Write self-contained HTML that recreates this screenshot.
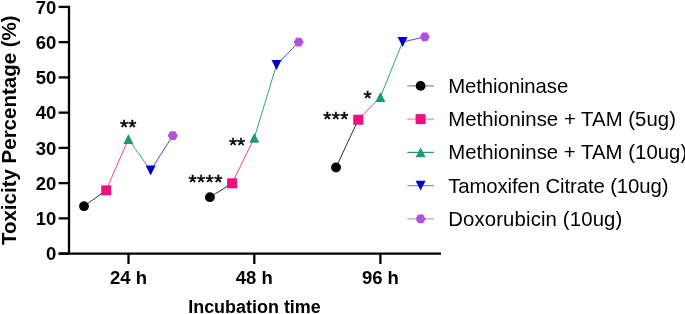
<!DOCTYPE html>
<html><head><meta charset="utf-8"><style>
html,body{margin:0;padding:0;background:#fff;width:685px;height:314px;overflow:hidden}
svg{display:block;will-change:transform}
text{font-family:"Liberation Sans",sans-serif;fill:#000}
.b{font-weight:bold;font-size:18.5px}
.s{font-size:21px;stroke:#000;stroke-width:0.5px;stroke-linejoin:round}
.r{font-size:20.35px}
</style></head><body>
<svg width="685" height="314" viewBox="0 0 685 314">
<line x1="69.0" y1="5.77" x2="69.0" y2="253.60" stroke="#000" stroke-width="2.3"/>
<line x1="58.6" y1="253.6" x2="441" y2="253.6" stroke="#000" stroke-width="2.3"/>
<line x1="58.6" y1="253.60" x2="69.0" y2="253.60" stroke="#000" stroke-width="2.3"/>
<text x="56.3" y="260.30" text-anchor="end" class="b">0</text>
<line x1="58.6" y1="218.36" x2="69.0" y2="218.36" stroke="#000" stroke-width="2.3"/>
<text x="56.3" y="225.06" text-anchor="end" class="b">10</text>
<line x1="58.6" y1="183.12" x2="69.0" y2="183.12" stroke="#000" stroke-width="2.3"/>
<text x="56.3" y="189.82" text-anchor="end" class="b">20</text>
<line x1="58.6" y1="147.88" x2="69.0" y2="147.88" stroke="#000" stroke-width="2.3"/>
<text x="56.3" y="154.58" text-anchor="end" class="b">30</text>
<line x1="58.6" y1="112.64" x2="69.0" y2="112.64" stroke="#000" stroke-width="2.3"/>
<text x="56.3" y="119.34" text-anchor="end" class="b">40</text>
<line x1="58.6" y1="77.40" x2="69.0" y2="77.40" stroke="#000" stroke-width="2.3"/>
<text x="56.3" y="84.10" text-anchor="end" class="b">50</text>
<line x1="58.6" y1="42.16" x2="69.0" y2="42.16" stroke="#000" stroke-width="2.3"/>
<text x="56.3" y="48.86" text-anchor="end" class="b">60</text>
<line x1="58.6" y1="6.92" x2="69.0" y2="6.92" stroke="#000" stroke-width="2.3"/>
<text x="56.3" y="13.62" text-anchor="end" class="b">70</text>
<line x1="128.5" y1="253.6" x2="128.5" y2="264" stroke="#000" stroke-width="2.3"/>
<text x="128.5" y="283.6" text-anchor="middle" class="b">24 h</text>
<line x1="254.3" y1="253.6" x2="254.3" y2="264" stroke="#000" stroke-width="2.3"/>
<text x="254.3" y="283.6" text-anchor="middle" class="b">48 h</text>
<line x1="380.4" y1="253.6" x2="380.4" y2="264" stroke="#000" stroke-width="2.3"/>
<text x="380.4" y="283.6" text-anchor="middle" class="b">96 h</text>
<text x="188.2" y="312.6" class="b" style="font-size:18.8px" textLength="132.6" lengthAdjust="spacingAndGlyphs">Incubation time</text>
<text transform="translate(16,130.2) rotate(-90)" text-anchor="middle" class="b" style="font-size:20.5px">Toxicity Percentage (%)</text>
<line x1="84.00" y1="206.20" x2="106.20" y2="190.35" stroke="#2a2a2a" stroke-width="1.0"/>
<line x1="106.20" y1="190.35" x2="128.40" y2="139.00" stroke="#F03C92" stroke-width="1.0"/>
<line x1="128.40" y1="139.00" x2="150.60" y2="170.50" stroke="#2EA678" stroke-width="1.0"/>
<line x1="150.60" y1="170.50" x2="172.80" y2="135.65" stroke="#4A4ADC" stroke-width="1.0"/>
<circle cx="84.0" cy="206.2" r="4.9" fill="#000"/>
<rect x="101.20" y="185.35" width="10.0" height="10.0" fill="#F00F80"/>
<polygon points="128.40,134.10 133.40,143.90 123.40,143.90" fill="#1C9A6C"/>
<polygon points="145.60,165.60 155.60,165.60 150.60,175.40" fill="#0000C8"/>
<polygon points="167.80,135.65 170.30,131.35 175.30,131.35 177.80,135.65 175.30,139.95 170.30,139.95" fill="#B550DD"/>
<line x1="209.90" y1="197.20" x2="232.10" y2="183.30" stroke="#2a2a2a" stroke-width="1.0"/>
<line x1="232.10" y1="183.30" x2="254.30" y2="137.90" stroke="#F03C92" stroke-width="1.0"/>
<line x1="254.30" y1="137.90" x2="276.50" y2="65.00" stroke="#2EA678" stroke-width="1.0"/>
<line x1="276.50" y1="65.00" x2="298.70" y2="42.10" stroke="#4A4ADC" stroke-width="1.0"/>
<circle cx="209.9" cy="197.2" r="4.9" fill="#000"/>
<rect x="227.10" y="178.30" width="10.0" height="10.0" fill="#F00F80"/>
<polygon points="254.30,133.00 259.30,142.80 249.30,142.80" fill="#1C9A6C"/>
<polygon points="271.50,60.10 281.50,60.10 276.50,69.90" fill="#0000C8"/>
<polygon points="293.70,42.10 296.20,37.80 301.20,37.80 303.70,42.10 301.20,46.40 296.20,46.40" fill="#B550DD"/>
<line x1="336.00" y1="167.50" x2="358.20" y2="119.75" stroke="#2a2a2a" stroke-width="1.0"/>
<line x1="358.20" y1="119.75" x2="380.40" y2="97.00" stroke="#F03C92" stroke-width="1.0"/>
<line x1="380.40" y1="97.00" x2="402.60" y2="42.00" stroke="#2EA678" stroke-width="1.0"/>
<line x1="402.60" y1="42.00" x2="424.80" y2="36.90" stroke="#4A4ADC" stroke-width="1.0"/>
<circle cx="336.0" cy="167.5" r="4.9" fill="#000"/>
<rect x="353.20" y="114.75" width="10.0" height="10.0" fill="#F00F80"/>
<polygon points="380.40,92.10 385.40,101.90 375.40,101.90" fill="#1C9A6C"/>
<polygon points="397.60,37.10 407.60,37.10 402.60,46.90" fill="#0000C8"/>
<polygon points="419.80,36.90 422.30,32.60 427.30,32.60 429.80,36.90 427.30,41.20 422.30,41.20" fill="#B550DD"/>
<text x="124.20" y="134.4" text-anchor="middle" class="s">*</text>
<text x="132.40" y="134.4" text-anchor="middle" class="s">*</text>
<text x="192.60" y="188.7" text-anchor="middle" class="s">*</text>
<text x="201.20" y="188.7" text-anchor="middle" class="s">*</text>
<text x="209.60" y="188.7" text-anchor="middle" class="s">*</text>
<text x="218.30" y="188.7" text-anchor="middle" class="s">*</text>
<text x="233.00" y="151.6" text-anchor="middle" class="s">*</text>
<text x="241.00" y="151.6" text-anchor="middle" class="s">*</text>
<text x="327.45" y="125.7" text-anchor="middle" class="s">*</text>
<text x="335.90" y="125.7" text-anchor="middle" class="s">*</text>
<text x="344.40" y="125.7" text-anchor="middle" class="s">*</text>
<text x="367.55" y="105.3" text-anchor="middle" class="s">*</text>
<line x1="407.3" y1="85.9" x2="434" y2="85.9" stroke="#888" stroke-width="1.2"/>
<circle cx="420.6" cy="85.9" r="4.9" fill="#000"/>
<text transform="translate(448.2,92.90) scale(1,1.035)" class="r" textLength="120.0" lengthAdjust="spacing">Methioninase</text>
<line x1="407.3" y1="119.1" x2="434" y2="119.1" stroke="#F27AB3" stroke-width="1.2"/>
<rect x="415.60" y="114.10" width="10.0" height="10.0" fill="#F00F80"/>
<text transform="translate(448.2,126.10) scale(1,1.035)" class="r" textLength="227.7" lengthAdjust="spacing">Methioninse + TAM (5ug)</text>
<line x1="407.3" y1="152.4" x2="434" y2="152.4" stroke="#1C9A6C" stroke-width="1.2"/>
<polygon points="420.60,147.50 425.60,157.30 415.60,157.30" fill="#1C9A6C"/>
<text transform="translate(448.2,159.40) scale(1,1.035)" class="r" textLength="239.0" lengthAdjust="spacing">Methioninse + TAM (10ug)</text>
<line x1="407.3" y1="185.6" x2="434" y2="185.6" stroke="#8888EE" stroke-width="1.2"/>
<polygon points="415.60,180.70 425.60,180.70 420.60,190.50" fill="#0000C8"/>
<text transform="translate(448.2,192.60) scale(1,1.035)" class="r" textLength="220.25" lengthAdjust="spacing">Tamoxifen Citrate (10ug)</text>
<line x1="407.3" y1="218.9" x2="434" y2="218.9" stroke="#AAA" stroke-width="1.2"/>
<polygon points="415.60,218.90 418.10,214.60 423.10,214.60 425.60,218.90 423.10,223.20 418.10,223.20" fill="#B550DD"/>
<text transform="translate(448.2,225.50) scale(1,1.035)" class="r" textLength="174.1" lengthAdjust="spacing">Doxorubicin (10ug)</text>
</svg>
</body></html>
